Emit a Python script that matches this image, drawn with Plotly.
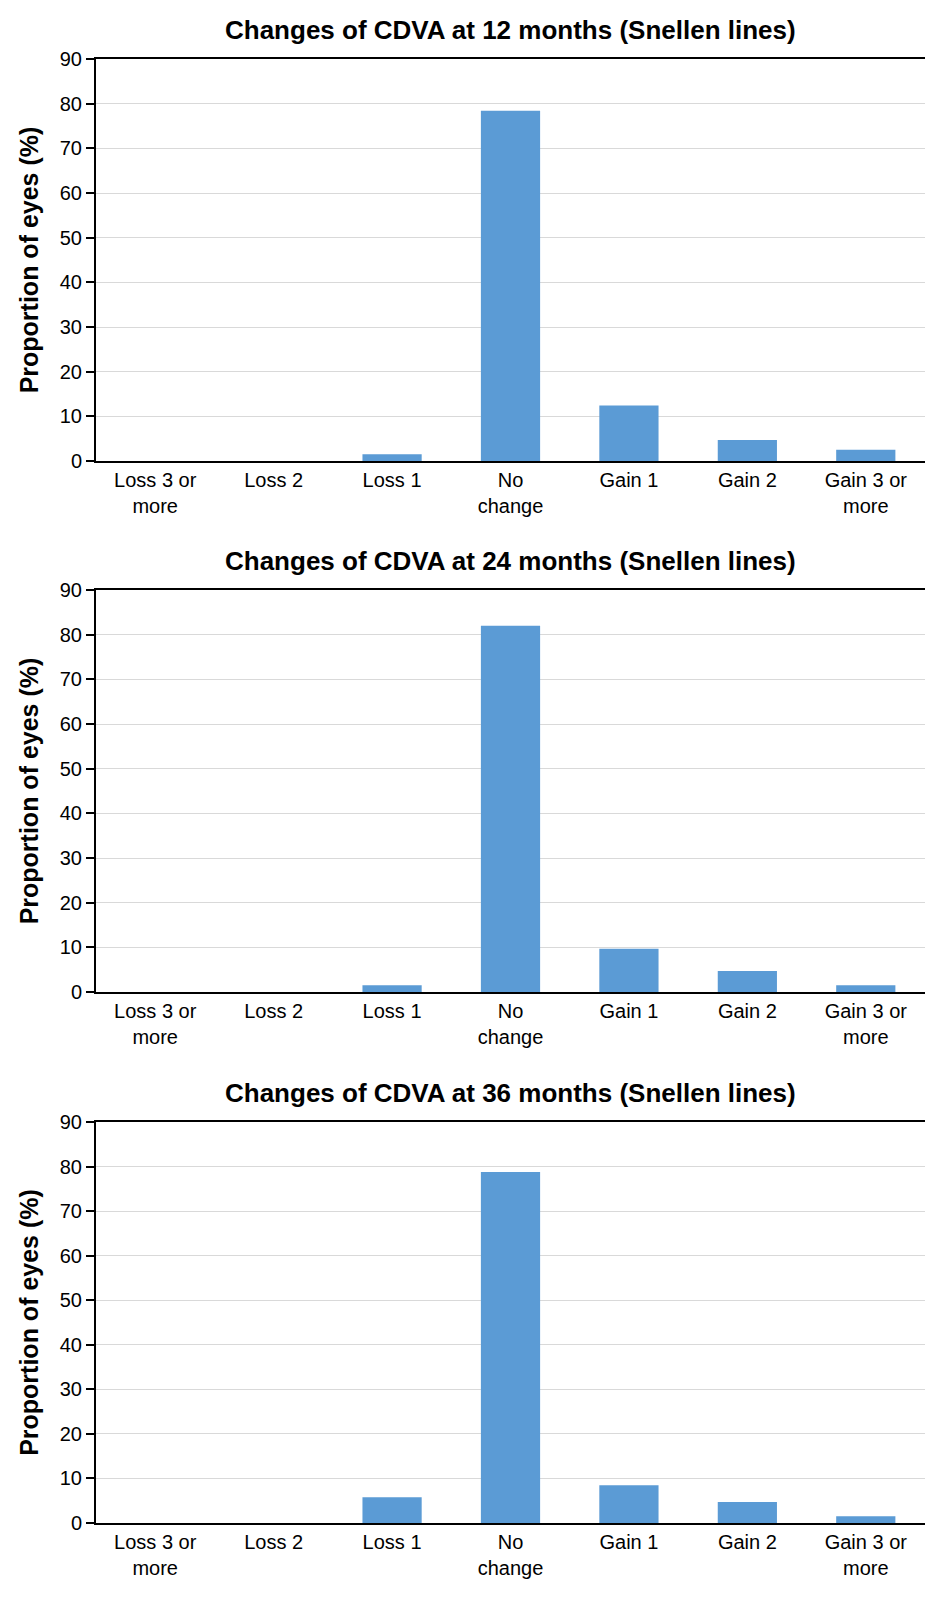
import plotly.graph_objects as go
from plotly.subplots import make_subplots

categories = ["Loss 3 or<br>more", "Loss 2", "Loss 1", "No<br>change", "Gain 1", "Gain 2", "Gain 3 or<br>more"]
values_12 = [0, 0, 1.5, 78.4, 12.4, 4.7, 2.5]
values_24 = [0, 0, 1.5, 82.0, 9.7, 4.7, 1.5]
values_36 = [0, 0, 5.8, 78.8, 8.5, 4.7, 1.5]
titles = ["Changes of CDVA at 12 months (Snellen lines)",
          "Changes of CDVA at 24 months (Snellen lines)",
          "Changes of CDVA at 36 months (Snellen lines)"]
y_ticks = [0, 10, 20, 30, 40, 50, 60, 70, 80, 90]

FONT = "Liberation Sans, Arial, sans-serif"
W, H = 937, 1602
ML, MR, MT, MB = 88, 20, 51, 87
PH = H - MT - MB

fig = make_subplots(rows=3, cols=1)
domains = []
for top_px, bot_px in [(51, 453), (582, 984), (1114, 1515)]:
    domains.append([(H - MB - bot_px) / PH, (H - MB - top_px) / PH])

for i, vals in enumerate([values_12, values_24, values_36]):
    fig.add_trace(go.Bar(x=categories, y=vals, marker=dict(color="#5B9BD5", line=dict(width=0)),
                         width=0.5, showlegend=False, hoverinfo="skip"), row=i + 1, col=1)
    xa = "xaxis" if i == 0 else f"xaxis{i+1}"
    ya = "yaxis" if i == 0 else f"yaxis{i+1}"
    fig.layout[ya].update(domain=domains[i], range=[0, 90], tickvals=y_ticks, showgrid=True,
                          gridcolor="#D9D9D9", gridwidth=1, showline=True, linecolor="#000", linewidth=2,
                          ticks="outside", ticklen=8, tickwidth=2, tickcolor="#000",
                          tickfont=dict(family=FONT, size=20, color="#000"),
                          title=dict(text="<b>Proportion of eyes (%)</b>", font=dict(family=FONT, size=25, color="#000"), standoff=14),
                          zeroline=False, fixedrange=True)
    fig.layout[xa].update(showline=True, linecolor="#000", linewidth=2, mirror=True, ticks="",
                          tickfont=dict(family=FONT, size=20, color="#000"), showgrid=False)
    fig.add_annotation(text=f"<b>{titles[i]}</b>", x=0.5, xref="paper", y=domains[i][1], yref="paper",
                       yshift=29, showarrow=False, font=dict(family=FONT, size=26, color="#000"),
                       xanchor="center", yanchor="middle")

fig.update_layout(width=W, height=H, margin=dict(l=ML, r=MR, t=MT, b=MB),
                  plot_bgcolor="white", paper_bgcolor="white", bargap=0.5)
fig.write_html("out.html")
